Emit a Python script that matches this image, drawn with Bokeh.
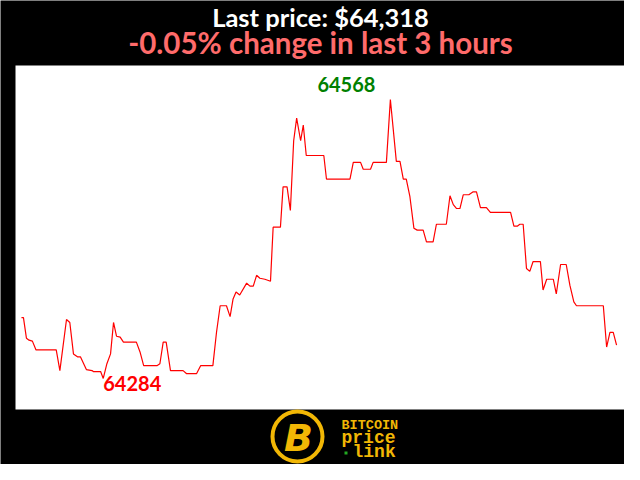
from bokeh.plotting import figure
from bokeh.models import Range1d
from bokeh.core.properties import value
from bokeh.embed import file_html
from bokeh.resources import INLINE

# ---- data ----
minutes = [0.3, 0.9, 1.8, 2.6, 3.6, 4.7, 10.8, 11.9, 13.9, 14.9, 16.0, 17.2, 18.1, 19.9,
           21.6, 22.0, 24.2, 25.0, 26.1, 27.2, 28.1, 29.0, 30.1, 31.1, 35.0, 36.1, 37.2,
           41.2, 42.1, 43.1, 44.0, 45.3, 49.1, 50.1, 53.2, 54.4, 58.1, 59.2, 60.3, 62.2,
           63.3, 64.2, 65.1, 66.2, 68.3, 69.3, 70.3, 71.3, 72.3, 73.8, 75.5, 76.3, 78.5,
           79.3, 80.5, 81.5, 82.5, 83.4, 84.6, 85.4, 86.3, 91.6, 92.4, 99.5, 100.5, 102.7,
           103.5, 105.7, 106.5, 110.5, 111.7, 113.5, 114.6, 115.6, 116.5, 117.6, 118.8,
           119.8, 121.6, 122.6, 124.6, 125.6, 128.6, 129.7, 130.7, 131.7, 132.7, 133.7,
           135.4, 136.7, 137.7, 138.9, 140.7, 141.9, 148.0, 149.0, 150.0, 150.8, 151.8,
           152.8, 153.8, 154.8, 157.0, 157.8, 158.9, 160.9, 161.8, 163.1, 164.8, 165.9,
           167.1, 167.9, 176.0, 177.0, 178.0, 179.0, 180.0]
prices = [64346, 64346, 64325, 64323, 64322, 64313, 64313, 64292, 64344, 64341, 64309, 64306,
          64306, 64293, 64292, 64291, 64291, 64284, 64299, 64309, 64341, 64327, 64326, 64321,
          64321, 64311, 64297, 64297, 64299, 64321, 64321, 64292, 64292, 64289, 64289, 64297,
          64297, 64331, 64358, 64358, 64347, 64365, 64372, 64369, 64381, 64378, 64378, 64389,
          64386, 64385, 64383, 64438, 64438, 64479, 64479, 64455, 64526, 64549, 64526, 64542,
          64511, 64511, 64487, 64487, 64504, 64504, 64497, 64497, 64504, 64504, 64568, 64505,
          64505, 64487, 64487, 64469, 64437, 64435, 64435, 64423, 64423, 64441, 64441, 64470,
          64461, 64457, 64457, 64471, 64471, 64474, 64474, 64458, 64458, 64453, 64453, 64439,
          64439, 64441, 64441, 64396, 64393, 64403, 64403, 64374, 64385, 64385, 64370, 64400,
          64400, 64379, 64362, 64358, 64358, 64316, 64331, 64331, 64318]

title_text = "Last price: $64,318"
subtitle_text = "-0.05% change in last 3 hours"

# ---- layout constants ----
W, H = 624, 464
PA_L, PA_R, PA_T, PA_B = 15, 625, 65, 409   # white plot area in canvas pixels (top-down)
X_LO, X_HI = -1.5, 182.7
Y_LO, Y_HI = 64252.4, 64602.6

sx = (PA_R - PA_L) / (X_HI - X_LO)
sy = (PA_B - PA_T) / (Y_HI - Y_LO)
x_range = Range1d(X_LO - PA_L / sx, X_HI + (W - PA_R) / sx)
y_range = Range1d(Y_LO - (H - PA_B) / sy, Y_HI + PA_T / sy)

p = figure(width=W, height=H, x_range=x_range, y_range=y_range,
           x_axis_type=None, y_axis_type=None, output_backend="svg",
           toolbar_location=None, min_border=0)
p.background_fill_color = "black"
p.border_fill_color = "black"
p.outline_line_color = None
p.grid.visible = False
p.extra_x_ranges = {"px": Range1d(0, W)}
p.extra_y_ranges = {"px": Range1d(H, 0)}

GOLD = "#f2b705"
FONT = value("Lato")

# white plot area
p.quad(left=[PA_L], right=[PA_R], top=[PA_T], bottom=[PA_B],
       x_range_name="px", y_range_name="px", fill_color="white", line_color=None)

# price line
p.line(minutes, prices, line_color="#ff0000", line_width=1.2)

# max / min labels
i_max = prices.index(max(prices))
i_min = prices.index(min(prices))
p.text(x=[minutes[i_max] - 44 / sx], y=[prices[i_max] + 15 / sy], text=[str(prices[i_max])],
       text_font=FONT, text_font_style="bold", text_font_size="20px",
       text_color="#008000", text_align="center", text_baseline="alphabetic")
p.text(x=[minutes[i_min]], y=[prices[i_min] - 5 / sy], text=[str(prices[i_min])],
       text_font=FONT, text_font_style="bold", text_font_size="20px",
       text_color="#ff0000", text_align="left", text_baseline="alphabetic")

# titles
p.text(x=[320], y=[16], text=[title_text], x_range_name="px", y_range_name="px",
       text_font=FONT, text_font_style="bold", text_font_size="25.5px",
       text_color="white", text_align="center", text_baseline="alphabetic")
p.text(x=[320], y=[42], text=[subtitle_text], x_range_name="px", y_range_name="px",
       text_font=FONT, text_font_style="bold", text_font_size="29.5px",
       text_color="#ff6b6b", text_align="center", text_baseline="alphabetic")

# logo
p.circle(x=[297], y=[436], radius=25, x_range_name="px", y_range_name="px",
         fill_color="black", line_color=GOLD, line_width=4)
p.text(x=[298], y=[437], text=["B"], x_range_name="px", y_range_name="px",
       text_font=value("DejaVu Sans"), text_font_style="bold italic", text_font_size="38px",
       text_color=GOLD, text_align="center", text_baseline="middle")
p.text(x=[341], y=[425], text=["BITCOIN"], x_range_name="px", y_range_name="px",
       text_font=value("Liberation Mono"), text_font_style="bold", text_font_size="13.5px",
       text_color=GOLD, text_align="left", text_baseline="alphabetic")
p.text(x=[341], y=[437], text=["price"], x_range_name="px", y_range_name="px",
       text_font=value("Liberation Mono"), text_font_style="bold", text_font_size="18px",
       text_color=GOLD, text_align="left", text_baseline="alphabetic")
p.text(x=[352], y=[451], text=["link"], x_range_name="px", y_range_name="px",
       text_font=value("Liberation Mono"), text_font_style="bold", text_font_size="18px",
       text_color=GOLD, text_align="left", text_baseline="alphabetic")
p.scatter(x=[345.5], y=[452.5], size=3, marker="square", x_range_name="px", y_range_name="px",
          fill_color="#22aa22", line_color=None)

open("out.html", "w").write(file_html(p, INLINE))
